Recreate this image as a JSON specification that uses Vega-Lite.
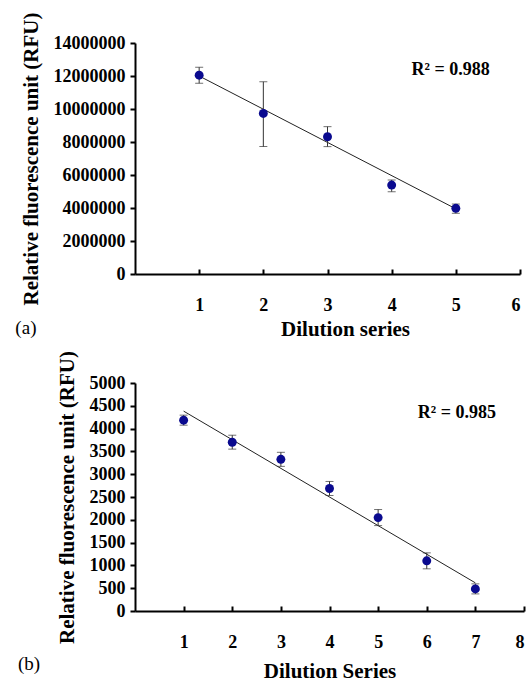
{
  "$schema": "https://vega.github.io/schema/vega-lite/v6.json",
  "background": "white",
  "padding": {"left": 15, "top": 12, "right": 5, "bottom": 0},
  "bounds": "flush",
  "spacing": 109,
  "datasets": {
    "a": [
      {"dilution": 1, "rfu": 12050000, "lo": 11560000, "hi": 12530000},
      {"dilution": 2, "rfu": 9730000, "lo": 7720000, "hi": 11650000},
      {"dilution": 3, "rfu": 8320000, "lo": 7720000, "hi": 8930000},
      {"dilution": 4, "rfu": 5390000, "lo": 4990000, "hi": 5700000},
      {"dilution": 5, "rfu": 3980000, "lo": 3680000, "hi": 4240000}
    ],
    "a_fit": [
      {"dilution": 1, "rfu": 12000000},
      {"dilution": 5, "rfu": 3950000}
    ],
    "b": [
      {"dilution": 1, "rfu": 4185, "lo": 4075, "hi": 4295},
      {"dilution": 2, "rfu": 3700, "lo": 3550, "hi": 3855},
      {"dilution": 3, "rfu": 3326, "lo": 3172, "hi": 3480},
      {"dilution": 4, "rfu": 2687, "lo": 2533, "hi": 2841},
      {"dilution": 5, "rfu": 2048, "lo": 1873, "hi": 2225},
      {"dilution": 6, "rfu": 1101, "lo": 925, "hi": 1275},
      {"dilution": 7, "rfu": 485, "lo": 375, "hi": 595}
    ],
    "b_fit": [
      {"dilution": 1, "rfu": 4383},
      {"dilution": 7, "rfu": 617}
    ]
  },
  "config": {
    "view": {"stroke": null},
    "font": "Liberation Serif",
    "axis": {
      "grid": false,
      "domainColor": "#000",
      "domainWidth": 2,
      "tickColor": "#000",
      "tickWidth": 2,
      "tickSize": 5,
      "labelFont": "Liberation Serif",
      "labelFontSize": 18,
      "labelFontWeight": "bold",
      "labelColor": "#000",
      "labelOverlap": false,
      "titleFont": "Liberation Serif",
      "titleFontSize": 21,
      "titleFontWeight": "bold",
      "titleColor": "#000"
    },
    "axisY": {"labelPadding": 5, "titlePadding": 12},
    "axisX": {"tickSize": -5, "labelPadding": 27, "titlePadding": 4}
  },
  "vconcat": [
    {
      "width": 385,
      "height": 231,
      "encoding": {
        "x": {"type": "quantitative", "scale": {"domain": [0, 6], "nice": false}, "axis": {"values": [1, 2, 3, 4, 5, 6], "format": "d", "title": "Dilution series", "titleX": 210}},
        "y": {"type": "quantitative", "scale": {"domain": [0, 14000000], "nice": false}, "axis": {"values": [0, 2000000, 4000000, 6000000, 8000000, 10000000, 12000000, 14000000], "format": "d", "title": "Relative fluorescence unit (RFU)"}}
      },
      "layer": [
        {
          "data": {"name": "a_fit"},
          "mark": {"type": "line", "color": "#222", "strokeWidth": 1},
          "encoding": {
            "x": {"field": "dilution"},
            "y": {"field": "rfu"}
          }
        },
        {
          "data": {"name": "a"},
          "mark": {"type": "errorbar", "color": "#333", "ticks": {"size": 8}},
          "encoding": {
            "x": {"field": "dilution"},
            "y": {"field": "lo"},
            "y2": {"field": "hi"}
          }
        },
        {
          "data": {"name": "a"},
          "mark": {"type": "point", "filled": true, "size": 80, "color": "#0a0a8f", "opacity": 1},
          "encoding": {
            "x": {"field": "dilution"},
            "y": {"field": "rfu"}
          }
        },
        {
          "data": {"values": [{}]},
          "mark": {"type": "text", "font": "Liberation Serif", "fontWeight": "bold", "fontSize": 18, "color": "#000"},
          "encoding": {
            "x": {"datum": 4.92},
            "y": {"datum": 12360000},
            "text": {"value": "R² = 0.988"}
          }
        },
        {
          "data": {"values": [{}]},
          "mark": {"type": "text", "font": "Liberation Serif", "fontSize": 19, "color": "#000", "clip": false},
          "encoding": {
            "x": {"datum": -1.7},
            "y": {"datum": -3270000},
            "text": {"value": "(a)"}
          }
        }
      ]
    },
    {
      "width": 389,
      "height": 228,
      "encoding": {
        "x": {"type": "quantitative", "scale": {"domain": [0, 8], "nice": false}, "axis": {"values": [1, 2, 3, 4, 5, 6, 7, 8], "format": "d", "title": "Dilution Series", "titlePadding": 9}},
        "y": {"type": "quantitative", "scale": {"domain": [0, 5000], "nice": false}, "axis": {"values": [0, 500, 1000, 1500, 2000, 2500, 3000, 3500, 4000, 4500, 5000], "format": "d", "title": "Relative fluorescence unit (RFU)"}}
      },
      "layer": [
        {
          "data": {"name": "b_fit"},
          "mark": {"type": "line", "color": "#222", "strokeWidth": 1},
          "encoding": {
            "x": {"field": "dilution"},
            "y": {"field": "rfu"}
          }
        },
        {
          "data": {"name": "b"},
          "mark": {"type": "errorbar", "color": "#333", "ticks": {"size": 8}},
          "encoding": {
            "x": {"field": "dilution"},
            "y": {"field": "lo"},
            "y2": {"field": "hi"}
          }
        },
        {
          "data": {"name": "b"},
          "mark": {"type": "point", "filled": true, "size": 80, "color": "#0a0a8f", "opacity": 1},
          "encoding": {
            "x": {"field": "dilution"},
            "y": {"field": "rfu"}
          }
        },
        {
          "data": {"values": [{}]},
          "mark": {"type": "text", "font": "Liberation Serif", "fontWeight": "bold", "fontSize": 18, "color": "#000"},
          "encoding": {
            "x": {"datum": 6.62},
            "y": {"datum": 4339},
            "text": {"value": "R² = 0.985"}
          }
        },
        {
          "data": {"values": [{}]},
          "mark": {"type": "text", "font": "Liberation Serif", "fontSize": 19, "color": "#000", "clip": false},
          "encoding": {
            "x": {"datum": -2.18},
            "y": {"datum": -1170},
            "text": {"value": "(b)"}
          }
        }
      ]
    }
  ]
}
